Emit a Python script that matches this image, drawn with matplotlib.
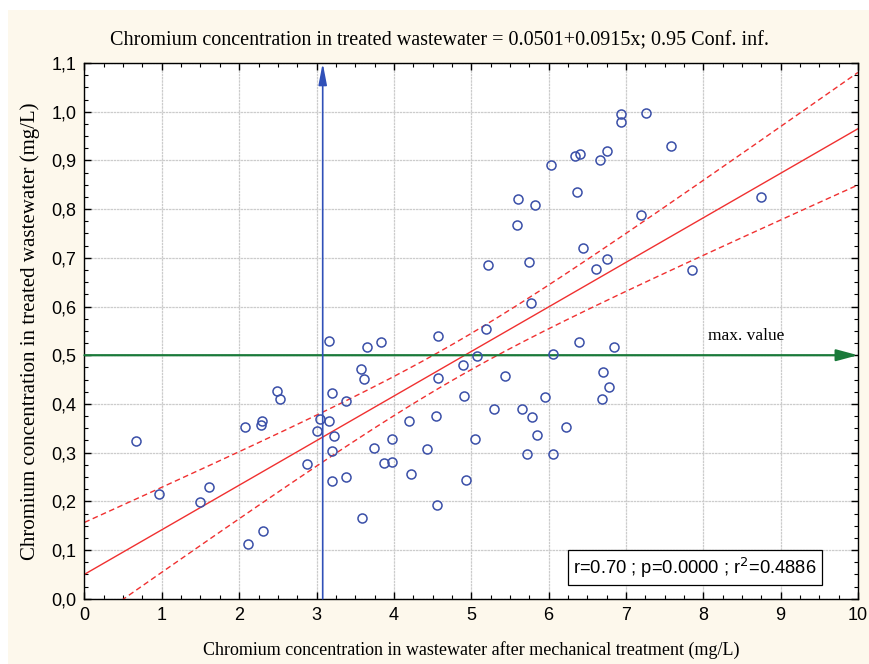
import numpy as np
import matplotlib
matplotlib.use("Agg")
import matplotlib.pyplot as plt
from matplotlib.ticker import MultipleLocator, FuncFormatter
from matplotlib.patches import Rectangle

# ---------- data ----------
x_mech = [0.66, 0.96, 1.50, 1.61, 2.07, 2.12, 2.29, 2.28, 2.31, 2.49, 2.53,
          2.88, 3.01, 3.04, 3.16, 3.16, 3.20, 3.22, 3.20, 3.20, 3.38, 3.38,
          3.59, 3.58, 3.61, 3.65, 3.74, 3.84, 3.87, 3.98, 3.98, 4.19, 4.22,
          4.43, 4.55, 4.56, 4.57, 4.57, 4.89, 4.91, 4.93, 5.05, 5.08, 5.19,
          5.22, 5.29, 5.44, 5.59, 5.60, 5.66, 5.72, 5.75, 5.77, 5.78, 5.82,
          5.85, 5.95, 6.03, 6.06, 6.06, 6.22, 6.34, 6.37, 6.39, 6.41, 6.45,
          6.61, 6.67, 6.69, 6.70, 6.75, 6.76, 6.78, 6.84, 6.93, 6.94, 7.19,
          7.26, 7.58, 7.86, 8.75]
y_treated = [0.324, 0.216, 0.199, 0.230, 0.353, 0.112, 0.365, 0.357, 0.139, 0.426, 0.410,
             0.277, 0.344, 0.370, 0.530, 0.365, 0.422, 0.335, 0.303, 0.241, 0.407, 0.249,
             0.166, 0.472, 0.451, 0.516, 0.309, 0.528, 0.278, 0.328, 0.280, 0.365, 0.257,
             0.307, 0.375, 0.192, 0.539, 0.454, 0.480, 0.416, 0.244, 0.328, 0.498, 0.554,
             0.685, 0.390, 0.457, 0.768, 0.821, 0.389, 0.298, 0.691, 0.608, 0.374, 0.808,
             0.336, 0.414, 0.891, 0.502, 0.297, 0.353, 0.910, 0.835, 0.528, 0.914, 0.721,
             0.678, 0.901, 0.411, 0.466, 0.919, 0.698, 0.435, 0.517, 0.995, 0.978, 0.788,
             0.998, 0.930, 0.675, 0.825]

intercept = 0.0501
slope = 0.0915
max_value = 0.5
marker_x = 3.08
stats_text = "r=0.70 ; p=0.0000 ; r$^2$=0.4886"
# -----------------------------------------------

x = np.array(x_mech)
y = np.array(y_treated)

# regression line and 95% confidence band around the mean
xs = np.linspace(0, 10, 200)
yhat = intercept + slope * xs
n = len(x)
resid = y - (intercept + slope * x)
s = np.sqrt(np.sum(resid ** 2) / (n - 2))
sxx = np.sum((x - x.mean()) ** 2)
t = 1.99
half = t * s * np.sqrt(1.0 / n + (xs - x.mean()) ** 2 / sxx)

BG = "#fdf8ec"
serif = ["Liberation Serif", "DejaVu Serif"]
sans = ["Liberation Sans", "DejaVu Sans"]

fig = plt.figure(figsize=(8.69, 6.64), dpi=100, facecolor=BG)
# thin white margin on top and left like the source image
fig.patches.append(Rectangle((0, 1 - 10 / 664), 1, 10 / 664, transform=fig.transFigure,
                             facecolor="white", edgecolor="none", zorder=-1))
fig.patches.append(Rectangle((0, 0), 8 / 869, 1, transform=fig.transFigure,
                             facecolor="white", edgecolor="none", zorder=-1))

ax = fig.add_axes([0.0972, 0.0983, 0.8901, 0.8068])
ax.set_facecolor("white")

ax.grid(True, color="#cccccc", linewidth=0.9, linestyle=(0, (2, 0.6)))
ax.set_axisbelow(True)

ax.plot(xs, yhat, color="#f03030", linewidth=1.0)
ax.plot(xs, yhat + half, color="#f03030", linewidth=1.0, linestyle=(0, (4, 2.5)))
ax.plot(xs, yhat - half, color="#f03030", linewidth=1.0, linestyle=(0, (4, 2.5)))

ax.plot(x, y, "o", markerfacecolor="none", markeredgecolor="#3a4fa8",
        markersize=6.5, markeredgewidth=1.1, zorder=5)

# max value arrow and vertical marker arrow
ax.annotate("", xy=(10, max_value), xytext=(0, max_value),
            arrowprops=dict(arrowstyle="-|>,head_length=1.3,head_width=0.35",
                            color="#1a7a3a", lw=1.6, shrinkA=0, shrinkB=0))
ax.annotate("", xy=(marker_x, 1.1), xytext=(marker_x, 0),
            arrowprops=dict(arrowstyle="-|>,head_length=1.3,head_width=0.25",
                            color="#3050b8", lw=1.2, shrinkA=0, shrinkB=0))
ax.text(8.55, 0.523, "max. value", family=serif, fontsize=12.5,
        ha="center", va="bottom")

ax.text(7.89, 0.064, stats_text, family=sans, fontsize=13.2, ha="center", va="center",
        bbox=dict(boxstyle="square,pad=0.28", facecolor="white",
                  edgecolor="black", linewidth=0.9), zorder=6)

ax.set_xlim(0, 10)
ax.set_ylim(0, 1.1)
ax.xaxis.set_major_locator(MultipleLocator(1))
ax.xaxis.set_minor_locator(MultipleLocator(0.25))
ax.yaxis.set_major_locator(MultipleLocator(0.1))
ax.yaxis.set_minor_locator(MultipleLocator(0.025))
ax.yaxis.set_major_formatter(FuncFormatter(lambda v, p: f"{v:.1f}".replace(".", ",")))
ax.tick_params(which="both", direction="in", top=True, right=True, color="black")
ax.tick_params(which="major", length=5, width=1.0, labelsize=13, pad=6)
ax.tick_params(which="minor", length=3, width=0.8)
for lab in ax.get_xticklabels() + ax.get_yticklabels():
    lab.set_family(sans)
for sp in ax.spines.values():
    sp.set_linewidth(1.0)

ax.set_xlabel("Chromium concentration in wastewater after mechanical treatment (mg/L)",
              family=serif, fontsize=13, labelpad=12)
ax.set_ylabel("Chromium concentration in treated wastewater (mg/L)",
              family=serif, fontsize=15, labelpad=8)
fig.text(0.506, 0.939,
         "Chromium concentration in treated wastewater = 0.0501+0.0915x; 0.95 Conf. inf.",
         family=serif, fontsize=14.5, ha="center", va="center")

fig.savefig("out.png", dpi=100, facecolor=BG)
